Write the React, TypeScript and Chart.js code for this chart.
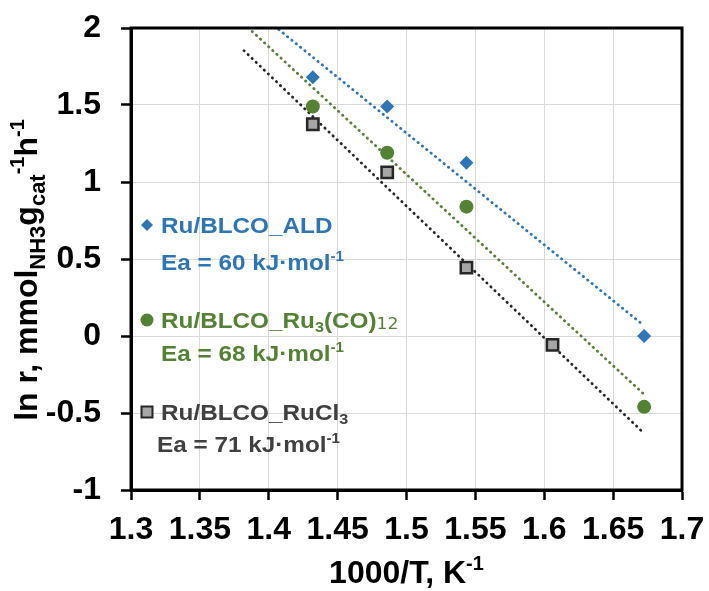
import React, { useEffect, useRef } from "react";
import { Chart, registerables } from "chart.js";

Chart.register(...registerables);

// ---- data ----
const xTicks = [1.3, 1.35, 1.4, 1.45, 1.5, 1.55, 1.6, 1.65, 1.7];
const xTickLabels = ["1.3", "1.35", "1.4", "1.45", "1.5", "1.55", "1.6", "1.65", "1.7"];
const yTicks = [-1, -0.5, 0, 0.5, 1, 1.5, 2];
const yTickLabels = ["-1", "-0.5", "0", "0.5", "1", "1.5", "2"];

const invT_ALD = [1.432, 1.486, 1.5435, 1.6725];
const lnR_ALD = [1.68, 1.49, 1.125, 0.0];
const invT_RuCO = [1.432, 1.486, 1.5435, 1.6725];
const lnR_RuCO = [1.49, 1.19, 0.84, -0.46];
const invT_RuCl = [1.432, 1.486, 1.5435, 1.606];
const lnR_RuCl = [1.375, 1.063, 0.444, -0.058];

const fitX = [1.382, 1.672];
const fit_ALD = [2.173, 0.07];
const fit_RuCO = [2.027, -0.375];
const fit_RuCl = [1.853, -0.628];

const seriesNames = ["Ru/BLCO_ALD", "Ru/BLCO_Ru3(CO)12", "Ru/BLCO_RuCl3"];
const eaValues = [60, 68, 71];

const BLUE = "#2E75B6";
const GREEN = "#548235";
const GRAYFILL = "#A6A6A6";
const DARK = "#262626";
const TEXTGRAY = "#404040";

const FAM = '"Liberation Sans", Arial, sans-serif';

type Seg = { t: string; size: number; dy: number; weight?: string; family?: string };

function segWidth(ctx: CanvasRenderingContext2D, segs: Seg[]) {
  let w = 0;
  for (const s of segs) {
    ctx.font = `${s.weight ?? "bold"} ${s.size}px ${s.family ?? FAM}`;
    w += ctx.measureText(s.t).width;
  }
  return w;
}

function drawSegs(ctx: CanvasRenderingContext2D, segs: Seg[], x: number, y: number) {
  let cx = x;
  ctx.textAlign = "left";
  ctx.textBaseline = "alphabetic";
  for (const s of segs) {
    ctx.font = `${s.weight ?? "bold"} ${s.size}px ${s.family ?? FAM}`;
    ctx.fillText(s.t, cx, y + s.dy);
    cx += ctx.measureText(s.t).width;
  }
}

const decorPlugin = {
  id: "decor",
  afterDraw(chart: any) {
    const ctx: CanvasRenderingContext2D = chart.ctx;
    const { left, right, top, bottom } = chart.chartArea;
    ctx.save();
    // frame
    ctx.strokeStyle = "#000";
    ctx.lineWidth = 3;
    ctx.strokeRect(left, top, right - left, bottom - top);

    // x title
    ctx.fillStyle = "#000";
    const xt: Seg[] = [
      { t: "1000/T, K", size: 32, dy: 0 },
      { t: "-1", size: 20, dy: -13 },
    ];
    const xw = segWidth(ctx, xt);
    drawSegs(ctx, xt, (left + right) / 2 - xw / 2, 583);

    // y title (rotated)
    const yt: Seg[] = [
      { t: "ln r, mmol", size: 32, dy: 0 },
      { t: "NH3", size: 22, dy: 8 },
      { t: "g", size: 32, dy: 0 },
      { t: "cat", size: 22, dy: 8 },
      { t: "-1", size: 20, dy: -13 },
      { t: "h", size: 32, dy: 0 },
      { t: "-1", size: 20, dy: -13 },
    ];
    const yw = segWidth(ctx, yt);
    ctx.save();
    ctx.translate(37, 270);
    ctx.rotate(-Math.PI / 2);
    drawSegs(ctx, yt, -yw / 2, 0);
    ctx.restore();

    // legend-like annotations
    const sx = 1.08;
    const items = [
      {
        color: BLUE,
        name: [{ t: "Ru/BLCO_ALD", size: 22.5, dy: 0 }] as Seg[],
        ea: eaValues[0],
        y1: 233,
        y2: 270,
        eaX: 161,
        marker: "diamond",
        my: 225,
      },
      {
        color: GREEN,
        name: [
          { t: "Ru/BLCO_Ru", size: 22.5, dy: 0 },
          { t: "3", size: 15, dy: 4 },
          { t: "(CO)", size: 22.5, dy: 0 },
          { t: "12", size: 16, dy: 1, weight: "normal", family: '"DejaVu Sans", sans-serif' },
        ] as Seg[],
        ea: eaValues[1],
        y1: 328,
        y2: 361,
        eaX: 161,
        marker: "circle",
        my: 320,
      },
      {
        color: TEXTGRAY,
        name: [
          { t: "Ru/BLCO_RuCl", size: 22.5, dy: 0 },
          { t: "3", size: 15, dy: 4 },
        ] as Seg[],
        ea: eaValues[2],
        y1: 420,
        y2: 452,
        eaX: 157,
        marker: "square",
        my: 412,
      },
    ];
    for (const it of items) {
      ctx.fillStyle = it.color;
      ctx.save();
      ctx.translate(161, it.y1);
      ctx.scale(sx, 1);
      drawSegs(ctx, it.name, 0, 0);
      ctx.restore();
      ctx.save();
      ctx.translate(it.eaX, it.y2);
      ctx.scale(sx, 1);
      drawSegs(
        ctx,
        [
          { t: `Ea = ${it.ea} kJ·mol`, size: 22.5, dy: 0 },
          { t: "-1", size: 14, dy: -9 },
        ],
        0,
        0
      );
      ctx.restore();
      // marker
      const mx = 147;
      ctx.beginPath();
      if (it.marker === "diamond") {
        ctx.fillStyle = BLUE;
        ctx.moveTo(mx, it.my - 6);
        ctx.lineTo(mx + 6, it.my);
        ctx.lineTo(mx, it.my + 6);
        ctx.lineTo(mx - 6, it.my);
        ctx.closePath();
        ctx.fill();
      } else if (it.marker === "circle") {
        ctx.fillStyle = GREEN;
        ctx.arc(mx, it.my, 6.5, 0, Math.PI * 2);
        ctx.fill();
      } else {
        ctx.fillStyle = GRAYFILL;
        ctx.strokeStyle = DARK;
        ctx.lineWidth = 2;
        ctx.rect(mx - 5.5, it.my - 5.5, 11, 11);
        ctx.fill();
        ctx.stroke();
      }
    }
    ctx.restore();
  },
};

const pts = (xs: number[], ys: number[]) => xs.map((x, i) => ({ x, y: ys[i] }));

export default function App() {
  const ref = useRef<HTMLCanvasElement | null>(null);
  useEffect(() => {
    document.body.style.margin = "0";
    const canvas = ref.current;
    if (!canvas) return;
    const trend = (ys: number[], color: string) => ({
      type: "line" as const,
      data: pts(fitX, ys),
      borderColor: color,
      borderWidth: 2.8,
      borderDash: [0.3, 5.3],
      borderCapStyle: "round" as const,
      pointRadius: 0,
      fill: false,
      showLine: true,
      order: 2,
    });
    const chart = new Chart(canvas, {
      type: "scatter",
      data: {
        datasets: [
          trend(fit_ALD, BLUE),
          trend(fit_RuCO, GREEN),
          trend(fit_RuCl, DARK),
          {
            label: seriesNames[0],
            data: pts(invT_ALD, lnR_ALD),
            pointStyle: "rectRot",
            pointRadius: 7,
            backgroundColor: BLUE,
            borderColor: BLUE,
            borderWidth: 0,
            order: 1,
          },
          {
            label: seriesNames[1],
            data: pts(invT_RuCO, lnR_RuCO),
            pointStyle: "circle",
            pointRadius: 7,
            backgroundColor: GREEN,
            borderColor: GREEN,
            borderWidth: 0,
            order: 1,
          },
          {
            label: seriesNames[2],
            data: pts(invT_RuCl, lnR_RuCl),
            pointStyle: "rect",
            pointRadius: 8,
            backgroundColor: GRAYFILL,
            borderColor: DARK,
            borderWidth: 2.5,
            order: 1,
          },
        ] as any,
      },
      options: {
        responsive: false,
        animation: false,
        layout: { padding: { top: 28, right: 27, left: 0, bottom: 0 } },
        plugins: {
          legend: { display: false },
          tooltip: { enabled: false },
          title: { display: false },
        },
        scales: {
          x: {
            type: "linear",
            min: 1.3,
            max: 1.7,
            afterBuildTicks: (s: any) => {
              s.ticks = xTicks.map((v) => ({ value: v }));
            },
            afterFit: (s: any) => {
              s.height = 101;
              s.paddingLeft = 0;
              s.paddingRight = 0;
              s.paddingTop = 0;
              s.paddingBottom = 0;
            },
            ticks: {
              callback: (_v: any, i: number) => xTickLabels[i],
              font: { family: FAM, size: 32, weight: "bold" },
              color: "#000",
              padding: 11,
              maxRotation: 0,
              autoSkip: false,
            },
            grid: {
              color: "#D9D9D9",
              lineWidth: 1,
              tickColor: "#000",
              tickLength: 10,
              tickWidth: 2.5,
            } as any,
            border: { color: "#000", width: 3 },
          },
          y: {
            type: "linear",
            min: -1,
            max: 2,
            afterBuildTicks: (s: any) => {
              s.ticks = yTicks.map((v) => ({ value: v }));
            },
            afterFit: (s: any) => {
              s.width = 131;
              s.paddingLeft = 0;
              s.paddingRight = 0;
              s.paddingTop = 0;
              s.paddingBottom = 0;
            },
            ticks: {
              callback: (_v: any, i: number) => yTickLabels[i],
              font: { family: FAM, size: 32, weight: "bold" },
              color: "#000",
              padding: 20,
              autoSkip: false,
            },
            grid: {
              color: "#D9D9D9",
              lineWidth: 1,
              tickColor: "#000",
              tickLength: 10,
              tickWidth: 2.5,
            } as any,
            border: { color: "#000", width: 3 },
          },
        },
      } as any,
      plugins: [decorPlugin],
    });
    return () => chart.destroy();
  }, []);
  return (
    <div style={{ width: 709, height: 591 }}>
      <canvas ref={ref} width={709} height={591} style={{ display: "block" }} />
    </div>
  );
}
